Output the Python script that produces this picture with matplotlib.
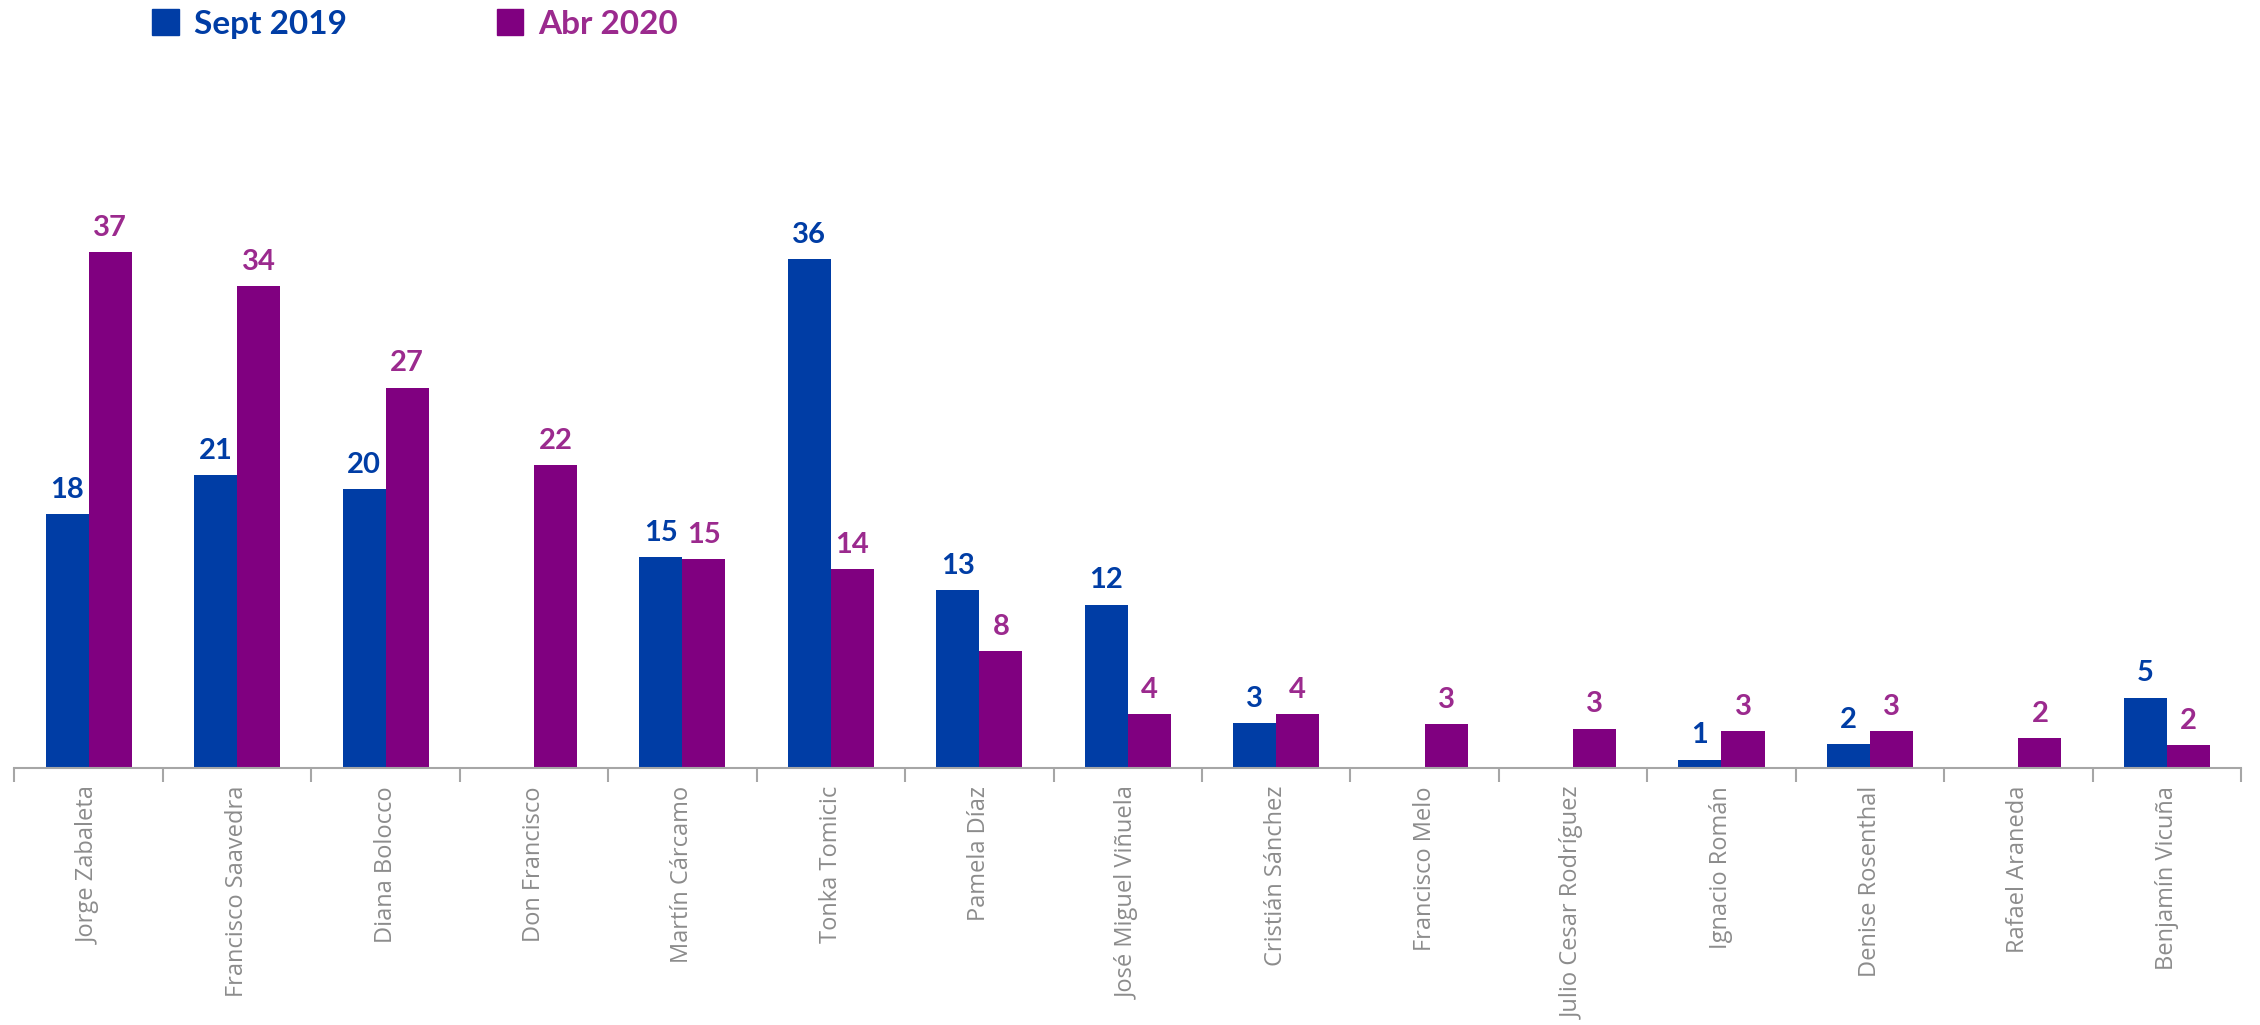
import numpy as np
import matplotlib.pyplot as plt
from matplotlib.patches import Patch

# Names and mention counts for both periods
names = ["Jorge Zabaleta", "Francisco Saavedra", "Diana Bolocco", "Don Francisco",
         "Martín Cárcamo", "Tonka Tomicic", "Pamela Díaz", "José Miguel Viñuela",
         "Cristián Sánchez", "Francisco Melo", "Julio Cesar Rodríguez", "Ignacio Román",
         "Denise Rosenthal", "Rafael Araneda", "Benjamín Vicuña"]
sept_2019 = [18.0, 20.8, 19.8, np.nan, 15.0, 36.1, 12.6, 11.6, 3.2, np.nan, np.nan, 0.6, 1.7, np.nan, 5.0]
abr_2020 = [36.6, 34.2, 27.0, 21.5, 14.8, 14.1, 8.3, 3.8, 3.8, 3.1, 2.8, 2.6, 2.6, 2.1, 1.6]
series_labels = ["Sept 2019", "Abr 2020"]

blue = "#003DA5"
purple = "#800080"
purple_text = "#9B2A8E"
gray = "#8C8C8C"

fig = plt.figure(figsize=(22.6, 10.25), dpi=100)
ax = fig.add_axes([0.0064, 0.2507, 0.9852, 0.6517])

x = np.arange(len(names))
w = 0.29
bars_a = ax.bar(x - w / 2, sept_2019, w, color=blue)
bars_b = ax.bar(x + w / 2, abr_2020, w, color=purple)

# value labels above each bar
for bars, vals, col in [(bars_a, sept_2019, blue), (bars_b, abr_2020, purple_text)]:
    for b, v in zip(bars, vals):
        if np.isnan(v):
            continue
        ax.annotate(f"{v:.0f}", (b.get_x() + b.get_width() / 2, v),
                    xytext=(0, 8), textcoords="offset points",
                    ha="center", va="bottom", fontsize=21, fontweight="bold",
                    color=col, family="Lato")

ax.set_xlim(-0.5, len(names) - 0.5)
ax.set_ylim(0, 47.4)

for s in ["top", "right", "left"]:
    ax.spines[s].set_visible(False)
ax.spines["bottom"].set_color("#A6A6A6")
ax.spines["bottom"].set_linewidth(1.5)
ax.set_yticks([])

# category labels at centres, tick marks at boundaries
ax.set_xticks(x)
ax.set_xticklabels(names, rotation=90, fontsize=17, color=gray, family="Open Sans", va="top")
ax.tick_params(axis="x", which="major", length=0, pad=13)
ax.set_xticks(np.arange(-0.5, len(names)), minor=True)
ax.tick_params(axis="x", which="minor", length=10, width=1.5, color="#A6A6A6")

handles = [Patch(color=blue), Patch(color=purple)]
leg = fig.legend(handles, series_labels, loc="upper left", bbox_to_anchor=(0.054, 1.02),
                 ncol=2, frameon=False, handlelength=0.8, handleheight=0.8,
                 handletextpad=0.45, columnspacing=4.5,
                 prop={"family": "Lato", "weight": "bold", "size": 24})
for t, c in zip(leg.get_texts(), [blue, purple_text]):
    t.set_color(c)

fig.savefig("out.png", dpi=100)
